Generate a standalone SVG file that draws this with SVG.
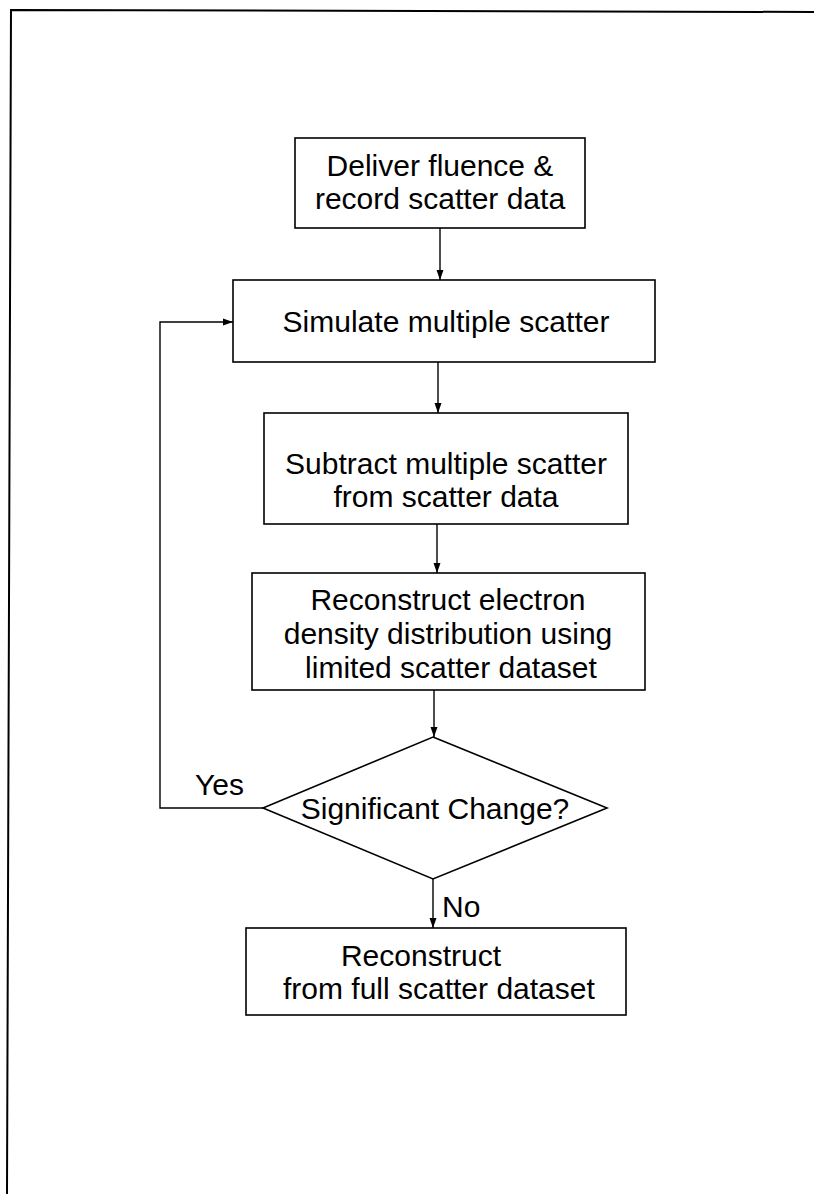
<svg xmlns="http://www.w3.org/2000/svg" width="814" height="1194" viewBox="0 0 814 1194">
  <style>
    .box { fill: #ffffff; stroke: #000000; stroke-width: 1.6; }
    .edge { fill: none; stroke: #000000; stroke-width: 1.4; }
    .frame { fill: none; stroke: #000000; stroke-width: 2; }
    text { font-family: "Liberation Sans", Arial, sans-serif; font-size: 30px; fill: #000000; }
    .c { text-anchor: middle; }
  </style>
  <defs>
    <marker id="arrow" viewBox="0 0 10 10" refX="10" refY="5" markerWidth="10" markerHeight="10" markerUnits="userSpaceOnUse" orient="auto">
      <path d="M0,1.5 L10,5 L0,8.5 Z" fill="#000000"/>
    </marker>
  </defs>

  <rect width="814" height="1194" fill="#ffffff"/>
  <!-- page frame -->
  <path class="frame" d="M814,12 L11,10 L7,1194"/>

  <g id="connectors">
    <line class="edge" x1="440" y1="228" x2="440" y2="280" marker-end="url(#arrow)"/>
    <line class="edge" x1="438" y1="362" x2="438" y2="413" marker-end="url(#arrow)"/>
    <line class="edge" x1="437" y1="524" x2="437" y2="573" marker-end="url(#arrow)"/>
    <line class="edge" x1="434" y1="690" x2="434" y2="737" marker-end="url(#arrow)"/>
    <line class="edge" x1="433" y1="879" x2="433" y2="928" marker-end="url(#arrow)"/>
    <polyline class="edge" points="263,808 160,808 160,322 233,322" marker-end="url(#arrow)"/>
    <text x="195" y="795">Yes</text>
    <text x="442" y="917">No</text>
  </g>

  <g id="deliver">
    <rect class="box" x="295" y="138" width="290" height="90"/>
    <text class="c" x="440" y="176">Deliver fluence &amp;</text>
    <text class="c" x="440" y="209">record scatter data</text>
  </g>

  <g id="simulate">
    <rect class="box" x="233" y="280" width="422" height="82"/>
    <text class="c" x="446" y="332">Simulate multiple scatter</text>
  </g>

  <g id="subtract">
    <rect class="box" x="264" y="413" width="364" height="111"/>
    <text class="c" x="446" y="474">Subtract multiple scatter</text>
    <text class="c" x="446" y="507">from scatter data</text>
  </g>

  <g id="reconstruct-limited">
    <rect class="box" x="252" y="573" width="393" height="117"/>
    <text class="c" x="448" y="610">Reconstruct electron</text>
    <text class="c" x="448" y="644">density distribution using</text>
    <text class="c" x="451" y="678">limited scatter dataset</text>
  </g>

  <g id="decision">
    <polygon class="box" points="433,737 607,808 433,879 263,808"/>
    <text class="c" x="435" y="819">Significant Change?</text>
  </g>

  <g id="reconstruct-full">
    <rect class="box" x="246" y="928" width="380" height="87"/>
    <text class="c" x="421" y="966">Reconstruct</text>
    <text x="283" y="999">from full scatter dataset</text>
  </g>
</svg>
